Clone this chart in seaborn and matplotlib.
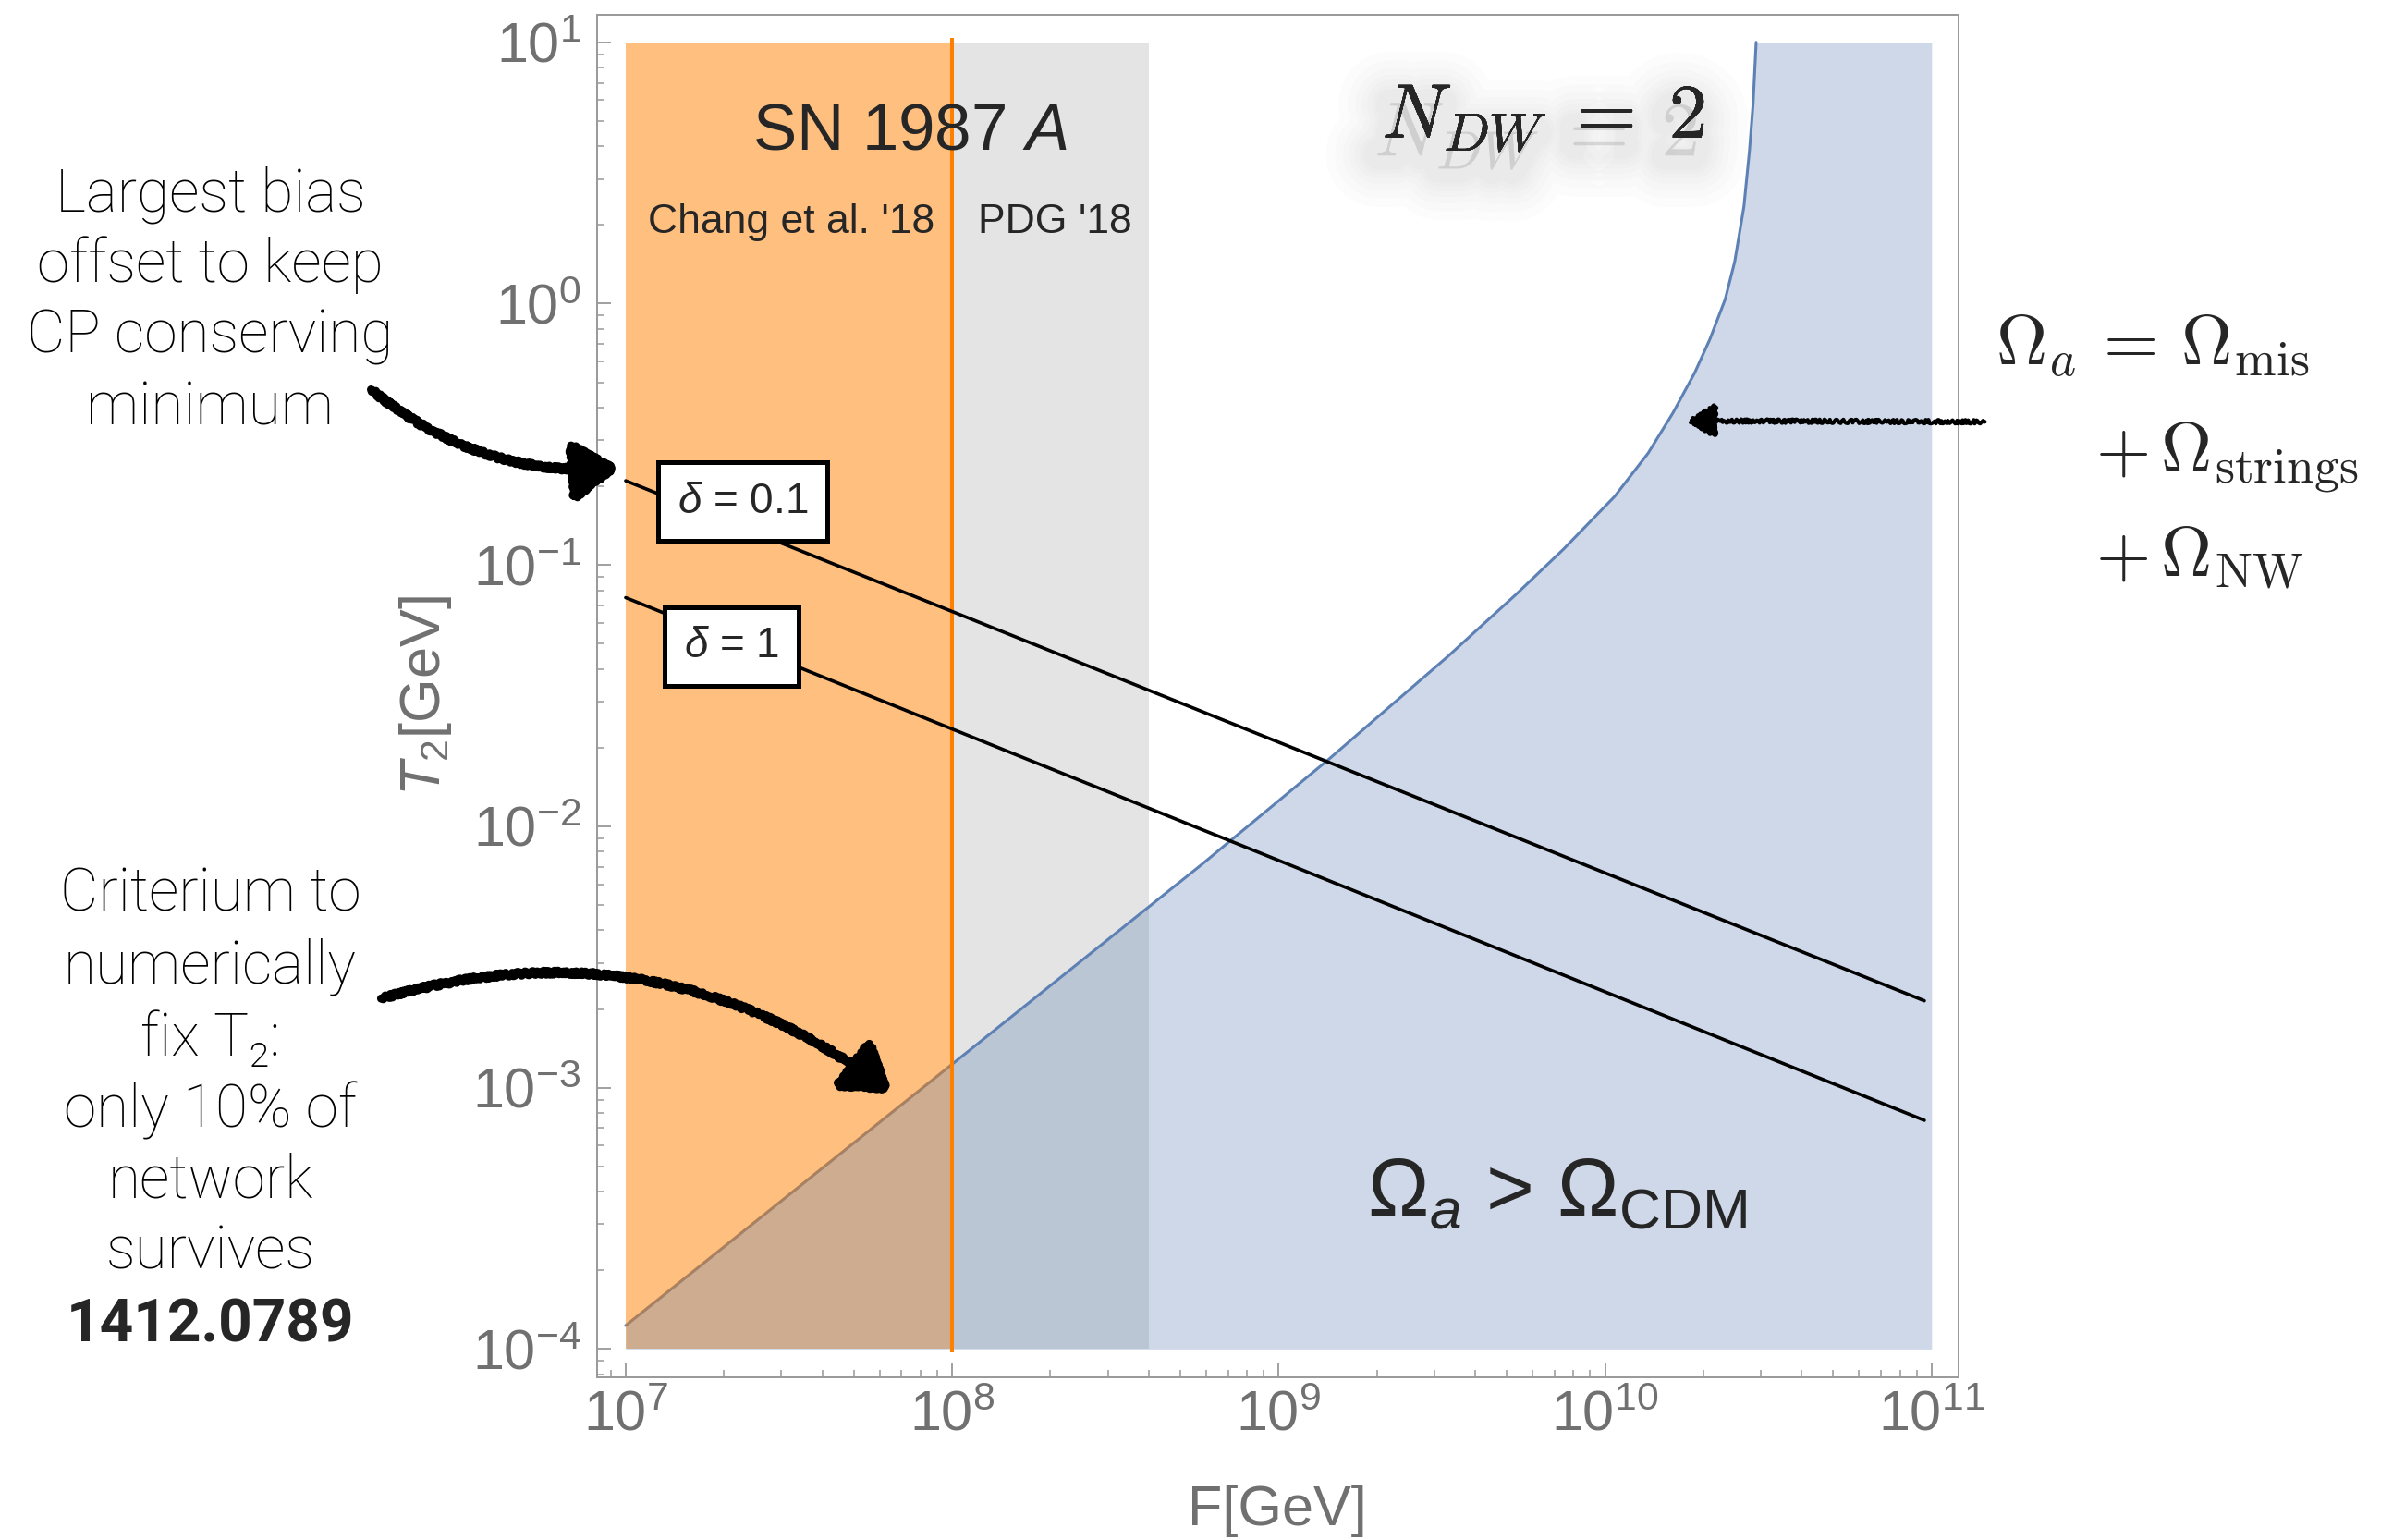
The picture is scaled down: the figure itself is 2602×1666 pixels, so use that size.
import numpy as np
import pandas as pd
import matplotlib
matplotlib.use('Agg')
import matplotlib.pyplot as plt
import matplotlib.patheffects as pe
from matplotlib.patches import FancyArrowPatch
import seaborn as sns

# ---- values ----
# boundary Omega_a = Omega_CDM  (F in GeV, T2 in GeV)
F_bound = [1.0e7, 1.0e8, 5.81e8, 1.42e9, 3.30e9, 5.32e9, 7.46e9, 1.07e10, 1.355e10,
           1.614e10, 1.88e10, 2.094e10, 2.333e10, 2.495e10, 2.661e10, 2.767e10,
           2.838e10, 2.901e10]
T_bound = [1.23e-4, 1.23e-3, 7.14e-3, 1.80e-2, 4.47e-2, 7.69e-2, 0.115, 0.183, 0.268,
           0.382, 0.543, 0.731, 1.04, 1.45, 2.35, 3.84, 5.77, 10.0]

# bias lines
F_delta = [1.0e7, 9.5e10]
T_delta01 = [0.21, 2.15e-3]
T_delta1 = [0.075, 7.5e-4]

# SN 1987A bounds
F_chang = [1.0e7, 1.0e8]
F_pdg = [1.0e8, 4.0e8]
F_max = 1.0e11
T_range = [1.0e-4, 10.0]

text_top = ["Largest bias", "offset to keep", "CP conserving", "minimum"]
text_bottom = ["Criterium to", "numerically", "fix T₂:", "only 10% of", "network", "survives"]

BLUE = "#5E81B5"
ORANGE = "#FF8000"
GRAY_TXT = "#707070"

sns.set_theme(style="white")
plt.rcParams['font.family'] = ['Liberation Sans', 'DejaVu Sans']
plt.rcParams['mathtext.fontset'] = 'custom'
plt.rcParams['mathtext.rm'] = 'Liberation Sans'
plt.rcParams['mathtext.it'] = 'Liberation Sans:italic'
plt.rcParams['mathtext.bf'] = 'Liberation Sans:bold'

fig = plt.figure(figsize=(26.02, 16.66), dpi=100)
ax = fig.add_axes([0.2481, 0.1059, 0.5663, 0.8845])
ax.set_xscale('log')
ax.set_yscale('log')

# bands
ax.fill_between(F_pdg, T_range[0], T_range[1], color="#E4E4E4", lw=0, zorder=1)
sns.lineplot(x=F_bound, y=T_bound, ax=ax, color=BLUE, lw=2.2, sort=False,
             estimator=None, zorder=2)
ax.fill_between(F_chang, T_range[0], T_range[1], color=ORANGE, alpha=0.5, lw=0, zorder=3)

F_fill = F_bound + [F_max]
T_fill = T_bound + [T_range[1]]
ax.fill_between(F_fill, T_range[0], T_fill, color=BLUE, alpha=0.3, lw=0, zorder=4)
ax.vlines(F_chang[1], T_range[0] * 0.97, T_range[1] * 1.04, color=ORANGE, lw=2.9, zorder=5)

sns.lineplot(x=F_delta, y=T_delta01, ax=ax, color="black", lw=2.6, zorder=6)
sns.lineplot(x=F_delta, y=T_delta1, ax=ax, color="black", lw=2.6, zorder=6)

box = dict(boxstyle="square,pad=0.45", fc="white", ec="black", lw=3.6)
ax.text(2.28e7, 0.1746, r"$\delta$ = 0.1", ha="center", va="center", fontsize=33,
        bbox=box, zorder=7)
ax.text(2.11e7, 0.0488, r"$\delta$ = 1", ha="center", va="center", fontsize=33,
        bbox=box, zorder=7)

ax.text(7.44e7, 3.89, r"SN 1987 $A$", ha="center", va="baseline", fontsize=51, zorder=8)
ax.text(3.21e7, 1.87, "Chang et al. '18", ha="center", va="baseline", fontsize=32, zorder=8)
ax.text(2.07e8, 1.87, "PDG '18", ha="center", va="baseline", fontsize=32, zorder=8)
ax.text(7.14e9, 3.24e-4, r"$\Omega_a$ > $\Omega_{\rm CDM}$", ha="center", va="baseline",
        fontsize=64, zorder=8)

# soft drop shadow behind N_DW = 2
shadow = [pe.withStroke(linewidth=w, foreground="#7a7a7a", alpha=0.02, offset=(-6, -14))
          for w in [80, 66, 54, 44, 36, 28, 22]]
ax.text(6.49e9, 4.30, r"$N_{DW}\;=\;2$", ha="center", va="baseline", fontsize=60,
        math_fontfamily="cm", path_effects=shadow + [pe.Normal()], zorder=8)

# axes styling
ax.set_xlim(8.15e6, 1.21e11)
ax.set_ylim(7.82e-5, 12.74)
ax.tick_params(which="both", direction="in", bottom=True, left=True, top=False, right=False,
               color="#999999", labelcolor=GRAY_TXT, labelsize=44)
ax.tick_params(which="major", length=11, width=1.3)
ax.tick_params(which="minor", length=5.5, width=1.1)
ax.tick_params(axis="y", pad=12)
ax.tick_params(axis="x", pad=10)
for s in ax.spines.values():
    s.set_color("#999999")
    s.set_linewidth(1.4)

ax.set_xlabel("F[GeV]", fontsize=44, color=GRAY_TXT, va="top")
ax.set_ylabel(r"$T_2$[GeV]", fontsize=44, color=GRAY_TXT)
ax.xaxis.set_label_coords(0.5, -0.079)
ax.yaxis.set_label_coords(-0.105, 0.5)

# annotations outside the axes
left_font = dict(family=["Roboto", "DejaVu Sans"], weight="light", fontsize=46,
                 ha="center", va="baseline", color="black")
for txt, y in zip(text_top, [0.8628, 0.8169, 0.7709, 0.7239]):
    fig.text(0.0874, y, txt, **left_font)
for txt, y in zip(text_bottom, [0.4084, 0.3616, 0.3147, 0.2679, 0.2221, 0.1763]):
    fig.text(0.0874, y, txt, **left_font)
fig.text(0.0874, 0.1290, "1412.0789", family=["Roboto", "DejaVu Sans"], weight="bold",
         fontsize=46, ha="center", va="baseline")

fig.text(0.8297, 0.7630, r"$\Omega_a\,=\,\Omega_{\rm mis}$", fontsize=55,
         math_fontfamily="cm", va="baseline")
fig.text(0.8712, 0.6942, r"$+\,\Omega_{\rm strings}$", fontsize=55,
         math_fontfamily="cm", va="baseline")
fig.text(0.8712, 0.6255, r"$+\,\Omega_{\rm NW}$", fontsize=55,
         math_fontfamily="cm", va="baseline")


def scribble_arrow(start, end, rad, lw, hl, hw):
    arr = FancyArrowPatch(start, end, transform=fig.transFigure,
                          connectionstyle=f"arc3,rad={rad}",
                          arrowstyle=f"-|>,head_length={hl},head_width={hw}",
                          mutation_scale=1, lw=lw, color="black",
                          shrinkA=0, shrinkB=0, joinstyle="round", capstyle="round")
    arr.set_sketch_params(2.0, 6.0, 4.0)
    fig.add_artist(arr)


scribble_arrow((0.1543, 0.7470), (0.2573, 0.6962), 0.2, 6.5, 30, 20)
scribble_arrow((0.1585, 0.3516), (0.3703, 0.2908), -0.25, 6.5, 30, 20)
scribble_arrow((0.8253, 0.7261), (0.7018, 0.7267), 0.0, 3.0, 18, 11)

fig.savefig("out.png", dpi=100)
plt.close()
